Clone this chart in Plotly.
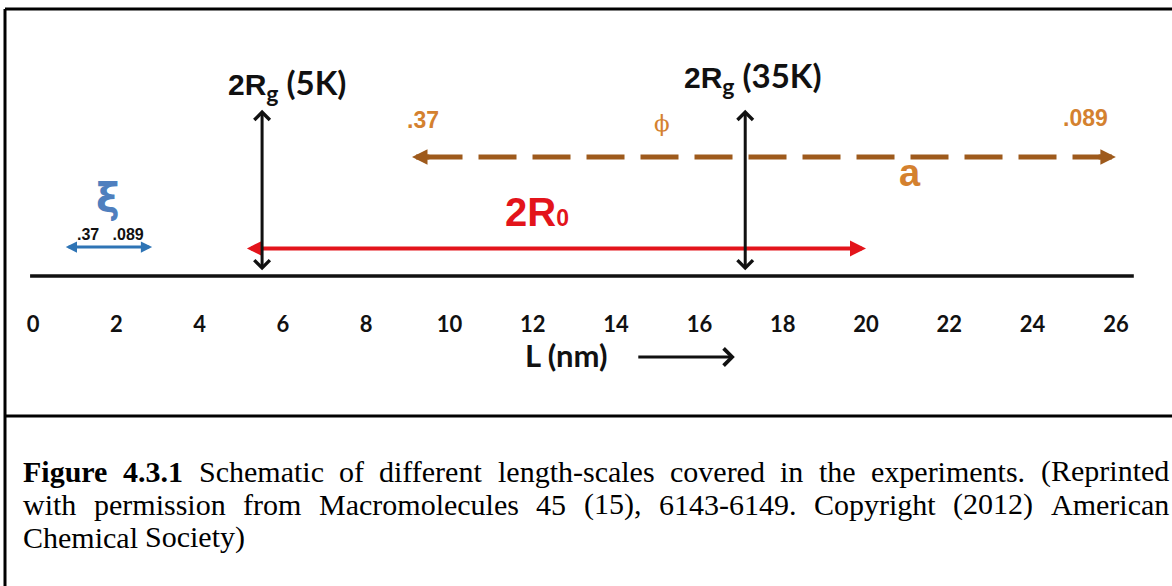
import plotly.graph_objects as go

# ---- data -------------------------------------------------------------
tick_values = list(range(0, 27, 2))          # L axis, nm
tick_labels = [str(v) for v in tick_values]

axis_span = [-0.07, 26.43]                   # extent of the L axis line (nm)

xi_span = [0.75, 2.86]                       # mesh size xi (nm)
xi_end_labels = [".37", ".089"]

r0_span = [5.1, 20.0]                        # 2R0 (nm)

a_span = [9.1, 26.0]                         # inter-particle distance a (nm)
a_end_labels = [".37", ".089"]

rg_labels = ["5K", "35K"]                    # 2Rg markers
rg_positions = [5.5, 17.1]                   # nm

caption_bold = ["Figure", "4.3.1"]
caption_lines = [
    "Schematic of different length-scales covered in the experiments. (Reprinted",
    "with permission from Macromolecules 45 (15), 6143-6149. Copyright (2012) American",
    "Chemical Society)",
]

# ---- styling ----------------------------------------------------------
W, H = 1172, 586
BLACK = "#111111"
RED = "#E3141B"
BROWN = "#9E5A1C"
ORANGE = "#D4812F"
BLUE = "#2E74B5"
XI_BLUE = "#4F7FBE"
CAL = "Lato, 'Open Sans', sans-serif"
ARIAL = "'Liberation Sans', Arial, sans-serif"
TIMES = "'Liberation Serif', 'Times New Roman', serif"

# axis level 0 sits 276 px from the top; 27.6 px per level unit
Y_RANGE = [-0.8696, 10.0]
Y_DOMAIN = [1 - 300 / H, 1.0]
X_RANGE = [-33 / 41.65, (W - 33) / 41.65]

fig = go.Figure()


def py(px):
    """paper y from a distance measured from the top"""
    return 1 - px / H


# main L axis line
fig.add_trace(go.Scatter(x=axis_span, y=[0, 0], mode="lines",
                         line=dict(color=BLACK, width=3.5),
                         hoverinfo="skip", showlegend=False))

# dashed a-arrow body
head = 0.3
fig.add_trace(go.Scatter(x=[a_span[0] + head, a_span[1] - head], y=[4.31, 4.31],
                         mode="lines",
                         line=dict(color=BROWN, width=5, dash="38px,16px"),
                         hoverinfo="skip", showlegend=False))

ann = []


def arrow(tip_x, tip_y, tail_x, tail_y, color, width, head_style, size, both=False):
    a = dict(x=tip_x, y=tip_y, ax=tail_x, ay=tail_y, xref="x", yref="y",
             axref="x", ayref="y", text="", showarrow=True,
             arrowhead=head_style, arrowsize=size,
             arrowwidth=width, arrowcolor=color)
    if both:
        a.update(arrowside="end+start", startarrowhead=head_style, startarrowsize=size)
    ann.append(a)


# xi
arrow(xi_span[1], 1.05, xi_span[0], 1.05, BLUE, 3, 2, 0.75, both=True)
# 2R0
arrow(r0_span[1], 1.0, r0_span[0], 1.0, RED, 4, 2, 0.8, both=True)
# 2Rg arrows
for pos in rg_positions:
    arrow(pos, 6.02, pos, 0.15, BLACK, 3, 4, 1.0, both=True)

# a-arrow heads
arrow(a_span[0], 4.31, a_span[0] + 0.45, 4.31, BROWN, 5, 2, 0.62)
arrow(a_span[1], 4.31, a_span[1] - 0.45, 4.31, BROWN, 5, 2, 0.62)


def label(x, y, text, size, color, family, xanchor="center", yref="y", xref="x"):
    ann.append(dict(x=x, y=y, xref=xref, yref=yref, text=text, showarrow=False,
                    xanchor=xanchor, yanchor="middle",
                    font=dict(size=size, color=color, family=family)))


# xi labels
label(1.8, 2.83, "<b>ξ</b>", 40, XI_BLUE, "'DejaVu Sans', sans-serif")
label(1.87, 1.49, f"<b>{xi_end_labels[0]}&nbsp;&nbsp;&nbsp;{xi_end_labels[1]}</b>",
      16, BLACK, ARIAL)

# 2R0
label(11.28, 2.32, "<b>2R<span style='font-size:23px'>0</span></b>", 40, RED, ARIAL,
      xanchor="left")

# a-arrow labels
label(9.36, 5.65, f"<b>{a_end_labels[0]}</b>", 23, ORANGE, ARIAL)
label(25.26, 5.72, f"<b>{a_end_labels[1]}</b>", 23, ORANGE, ARIAL)
label(15.1, 5.54, "ϕ", 23, ORANGE, "'DejaVu Serif', serif")
label(21.06, 3.73, "<b>a</b>", 38, ORANGE, ARIAL)

# 2Rg labels
rg_left = [4.63, 15.58]
rg_y = [6.95, 7.18]
for name, xl, yl in zip(rg_labels, rg_left, rg_y):
    txt = (f"<b><span style=\"font-family:{ARIAL};font-size:30px\">2R</span>"
           f"<sub><span style='font-size:23px'>g</span></sub> ({name})</b>")
    label(xl, yl, txt, 33, BLACK, CAL, xanchor="left")

# L (nm) label and arrow
label(12.8, py(355), "<b>L (nm)</b>", 31, BLACK, CAL, yref="paper")
ann.append(dict(x=16.85, y=py(357), xref="x", yref="paper", ax=-98, ay=0,
                axref="pixel", ayref="pixel", text="", showarrow=True,
                arrowhead=4, arrowsize=1.1, arrowwidth=3, arrowcolor=BLACK))

# ---- caption, justified to the frame width -----------------------------
TNR = {" ": 250, "(": 333, ")": 333, ",": 250, "-": 333, ".": 250, ":": 278}
TNR.update({d: 500 for d in "0123456789"})
TNR.update(dict(zip("ABCDEFGHIJKLMNOPQRSTUVWXYZ",
                    [722, 667, 667, 722, 611, 556, 722, 722, 333, 389, 722, 611, 889,
                     722, 722, 556, 722, 667, 556, 611, 722, 722, 944, 722, 722, 611])))
TNR.update(dict(zip("abcdefghijklmnopqrstuvwxyz",
                    [444, 500, 444, 500, 444, 333, 500, 500, 278, 278, 500, 278, 778,
                     500, 500, 500, 500, 333, 389, 278, 500, 500, 722, 500, 500, 444])))
TNR_B = dict(TNR)
TNR_B.update({"F": 611, "u": 556, "r": 444, "g": 500, "i": 278, "e": 444})

CAP_SIZE = 30
CAP_LEFT, CAP_RIGHT = 22, 1168


def word_width(word, bold):
    table = TNR_B if bold else TNR
    return sum(table.get(ch, 500) for ch in word) * CAP_SIZE / 1000


for i, line in enumerate(caption_lines):
    words = line.split()
    n_bold = 0
    if i == 0:
        words = caption_bold + words
        n_bold = len(caption_bold)
    widths = [word_width(w, k < n_bold) for k, w in enumerate(words)]
    justify = i < len(caption_lines) - 1
    gap = ((CAP_RIGHT - CAP_LEFT - sum(widths)) / (len(words) - 1)
           if justify else 250 * CAP_SIZE / 1000)
    x = CAP_LEFT
    for k, (w, wd) in enumerate(zip(words, widths)):
        txt = f"<b>{w}</b>" if k < n_bold else w
        ann.append(dict(x=x / W, y=py(471 + 33 * i), xref="paper", yref="paper",
                        text=txt, showarrow=False, xanchor="left", yanchor="middle",
                        borderpad=0,
                        font=dict(size=CAP_SIZE, color="#000000", family=TIMES)))
        x += wd + gap

# frame
shapes = [
    dict(type="line", xref="paper", yref="paper", x0=5 / W, x1=1, y0=py(9), y1=py(9),
         line=dict(color="#000000", width=3)),
    dict(type="line", xref="paper", yref="paper", x0=5 / W, x1=1, y0=py(416), y1=py(416),
         line=dict(color="#000000", width=3)),
    dict(type="line", xref="paper", yref="paper", x0=5 / W, x1=5 / W, y0=py(9), y1=0,
         line=dict(color="#000000", width=3)),
]

fig.update_layout(
    width=W, height=H,
    margin=dict(l=0, r=0, t=0, b=0),
    paper_bgcolor="white", plot_bgcolor="white",
    showlegend=False,
    annotations=ann, shapes=shapes,
    xaxis=dict(range=X_RANGE, domain=[0, 1], tickvals=tick_values, ticktext=tick_labels,
               showgrid=False, zeroline=False, showline=False, ticks="",
               ticklabelstandoff=9,
               tickfont=dict(family=CAL, size=22, color=BLACK, weight="bold"),
               fixedrange=True),
    yaxis=dict(range=Y_RANGE, domain=Y_DOMAIN, visible=False, fixedrange=True),
)

fig.write_html("out.html")
